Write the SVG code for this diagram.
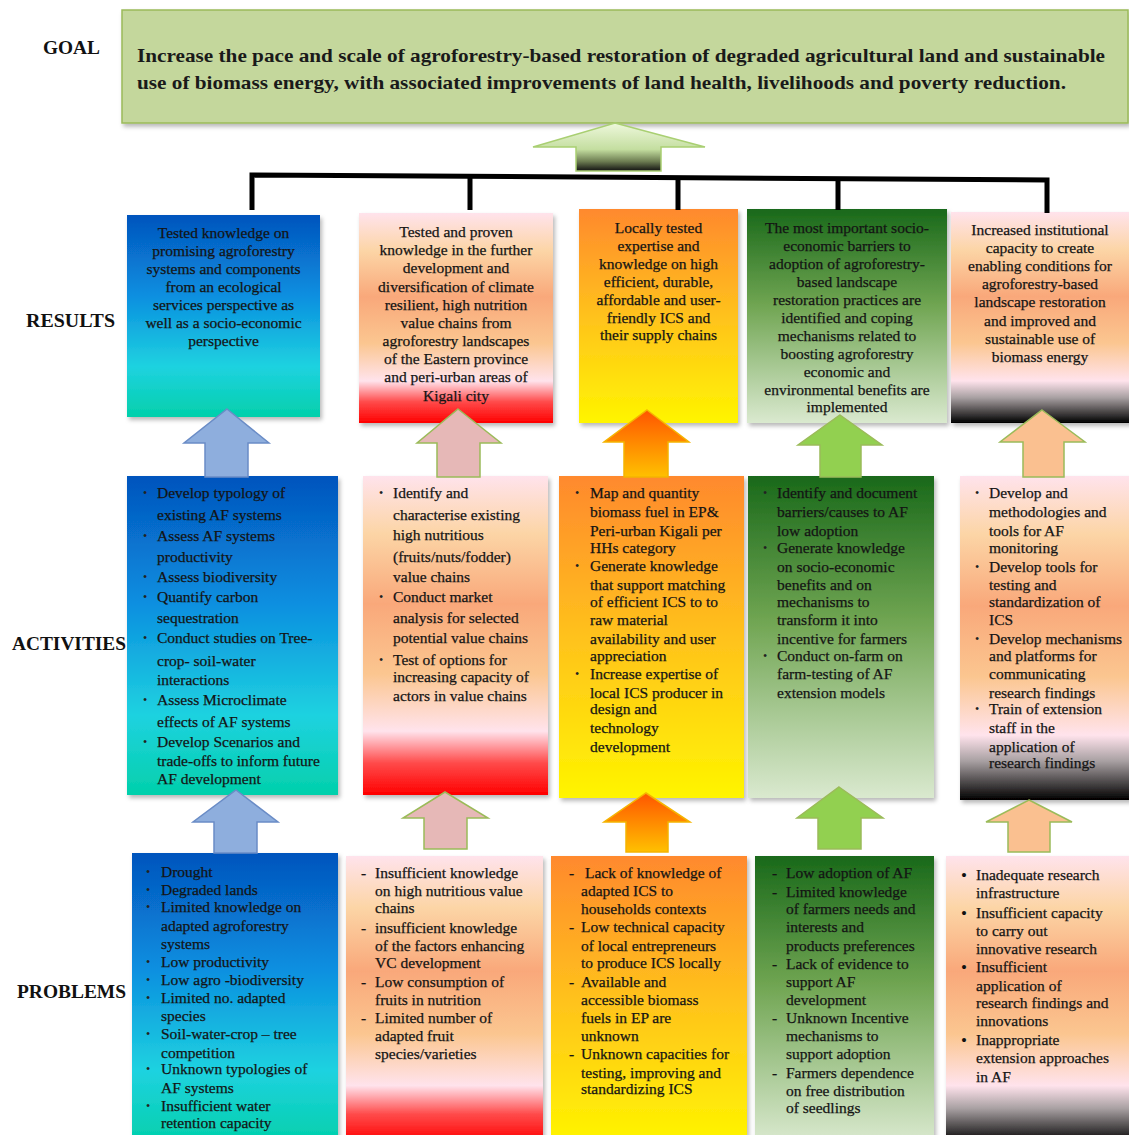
<svg xmlns="http://www.w3.org/2000/svg" width="1129" height="1135" viewBox="0 0 1129 1135">
<style>
.t{font-family:"Liberation Serif","Times New Roman",serif;font-size:15.5px;fill:#141414;stroke:#141414;stroke-width:0.25}
.c{text-anchor:middle}
.lbl{font-family:"Liberation Serif","Times New Roman",serif;font-size:19px;font-weight:bold;fill:#111}
.goal{font-family:"Liberation Serif","Times New Roman",serif;font-size:19px;font-weight:bold;fill:#1a1a1a}
.b{font-family:"Liberation Serif","Times New Roman",serif;font-size:12px;fill:#222}
.rb{font-family:"Liberation Serif","Times New Roman",serif;font-size:17px;fill:#111}
.box{filter:url(#sh)}
.br{fill:none;stroke:#000;stroke-width:5}
.arr{stroke-width:1.5;stroke-linejoin:miter}
</style>
<defs>
<filter id="sh" x="-5%" y="-5%" width="115%" height="115%">
<feDropShadow dx="2" dy="3" stdDeviation="2" flood-color="#000" flood-opacity="0.28"/>
</filter>
<linearGradient id="gBlue" x1="0" y1="0" x2="0" y2="1">
<stop offset="0" stop-color="#0454bd"/><stop offset="0.4" stop-color="#0a8fe0"/><stop offset="0.75" stop-color="#1fd2e0"/><stop offset="1" stop-color="#02d0ab"/>
</linearGradient>
<linearGradient id="gPinkRed" x1="0" y1="0" x2="0" y2="1">
<stop offset="0" stop-color="#ffe3ec"/><stop offset="0.18" stop-color="#fcd5a6"/><stop offset="0.4" stop-color="#f9a87a"/><stop offset="0.62" stop-color="#fbc690"/><stop offset="0.8" stop-color="#ffe3ec"/><stop offset="0.9" stop-color="#ff4a4a"/><stop offset="1" stop-color="#ff0000"/>
</linearGradient>
<linearGradient id="gOrange" x1="0" y1="0" x2="0" y2="1">
<stop offset="0" stop-color="#ff892e"/><stop offset="0.5" stop-color="#ffc21c"/><stop offset="1" stop-color="#fff500"/>
</linearGradient>
<linearGradient id="gGreen" x1="0" y1="0" x2="0" y2="1">
<stop offset="0" stop-color="#19691a"/><stop offset="0.45" stop-color="#70a552"/><stop offset="1" stop-color="#dae9cf"/>
</linearGradient>
<linearGradient id="gPinkBlack" x1="0" y1="0" x2="0" y2="1">
<stop offset="0" stop-color="#ffe3ec"/><stop offset="0.18" stop-color="#fcd5a6"/><stop offset="0.4" stop-color="#f9a87a"/><stop offset="0.62" stop-color="#fbc690"/><stop offset="0.8" stop-color="#ffe3ec"/><stop offset="0.88" stop-color="#a8a0a2"/><stop offset="1" stop-color="#000"/>
</linearGradient>
<linearGradient id="aGoal" x1="0" y1="0" x2="0" y2="1">
<stop offset="0" stop-color="#eef8dc"/><stop offset="0.55" stop-color="#c4dea0"/><stop offset="0.8" stop-color="#6d7d52"/><stop offset="1" stop-color="#111"/>
</linearGradient>
<linearGradient id="aOrange" x1="0" y1="0" x2="0" y2="1">
<stop offset="0" stop-color="#ff5500"/><stop offset="1" stop-color="#ffc000"/>
</linearGradient>
</defs>
<rect width="1129" height="1135" fill="#fff"/>

<!-- row labels -->
<g id="labels">
<text class="lbl" x="43" y="54" textLength="57" lengthAdjust="spacingAndGlyphs">GOAL</text>
<text class="lbl" x="26" y="327" textLength="89" lengthAdjust="spacingAndGlyphs">RESULTS</text>
<text class="lbl" x="12" y="650" textLength="114" lengthAdjust="spacingAndGlyphs">ACTIVITIES</text>
<text class="lbl" x="17" y="998" textLength="109" lengthAdjust="spacingAndGlyphs">PROBLEMS</text>
</g>

<!-- goal -->
<g id="goal">
<rect class="box" x="122" y="10" width="1006" height="113" fill="#c4d79c" stroke="#9bbb59" stroke-width="1.5"/>
<text class="goal" x="137" y="62" textLength="968" lengthAdjust="spacingAndGlyphs">Increase the pace and scale of agroforestry-based restoration of degraded agricultural land and sustainable</text>
<text class="goal" x="137" y="89" textLength="929" lengthAdjust="spacingAndGlyphs">use of biomass energy, with associated improvements of land health, livelihoods and poverty reduction.</text>
</g>

<!-- results -->
<g id="result1">
<rect class="box" x="127" y="215" width="193" height="202" fill="url(#gBlue)"/>
<text class="t c" x="223.5" y="238">Tested knowledge on</text>
<text class="t c" x="223.5" y="256">promising agroforestry</text>
<text class="t c" x="223.5" y="274">systems and components</text>
<text class="t c" x="223.5" y="292">from an ecological</text>
<text class="t c" x="223.5" y="310">services perspective as</text>
<text class="t c" x="223.5" y="328">well as a socio-economic</text>
<text class="t c" x="223.5" y="346">perspective</text>
</g>
<g id="result2">
<rect class="box" x="359" y="213" width="194" height="210" fill="url(#gPinkRed)"/>
<text class="t c" x="456" y="237">Tested and proven</text>
<text class="t c" x="456" y="255">knowledge in the further</text>
<text class="t c" x="456" y="273">development and</text>
<text class="t c" x="456" y="292">diversification of climate</text>
<text class="t c" x="456" y="310">resilient, high nutrition</text>
<text class="t c" x="456" y="328">value chains from</text>
<text class="t c" x="456" y="346">agroforestry landscapes</text>
<text class="t c" x="456" y="364">of the Eastern province</text>
<text class="t c" x="456" y="382">and peri-urban areas of</text>
<text class="t c" x="456" y="401">Kigali city</text>
</g>
<g id="result3">
<rect class="box" x="579" y="209" width="159" height="214" fill="url(#gOrange)"/>
<text class="t c" x="658.5" y="233">Locally tested</text>
<text class="t c" x="658.5" y="251">expertise and</text>
<text class="t c" x="658.5" y="269">knowledge on high</text>
<text class="t c" x="658.5" y="287">efficient, durable,</text>
<text class="t c" x="658.5" y="305">affordable and user-</text>
<text class="t c" x="658.5" y="323">friendly ICS and</text>
<text class="t c" x="658.5" y="340">their supply chains</text>
</g>
<g id="result4">
<rect class="box" x="747" y="209" width="200" height="214" fill="url(#gGreen)"/>
<text class="t c" x="847" y="233">The most important socio-</text>
<text class="t c" x="847" y="251">economic barriers to</text>
<text class="t c" x="847" y="269">adoption of agroforestry-</text>
<text class="t c" x="847" y="287">based landscape</text>
<text class="t c" x="847" y="305">restoration practices are</text>
<text class="t c" x="847" y="323">identified and coping</text>
<text class="t c" x="847" y="341">mechanisms related to</text>
<text class="t c" x="847" y="359">boosting agroforestry</text>
<text class="t c" x="847" y="377">economic and</text>
<text class="t c" x="847" y="395">environmental benefits are</text>
<text class="t c" x="847" y="412">implemented</text>
</g>
<g id="result5">
<rect class="box" x="951" y="212" width="180" height="211" fill="url(#gPinkBlack)"/>
<text class="t c" x="1040" y="235">Increased institutional</text>
<text class="t c" x="1040" y="253">capacity to create</text>
<text class="t c" x="1040" y="271">enabling conditions for</text>
<text class="t c" x="1040" y="289">agroforestry-based</text>
<text class="t c" x="1040" y="307">landscape restoration</text>
<text class="t c" x="1040" y="326">and improved and</text>
<text class="t c" x="1040" y="344">sustainable use of</text>
<text class="t c" x="1040" y="362">biomass energy</text>
</g>

<!-- activities -->
<g id="activity1">
<rect class="box" x="127" y="476" width="211" height="319" fill="url(#gBlue)"/>
<text class="b" x="143" y="497">•</text><text class="t" x="157" y="498">Develop typology of</text>
<text class="t" x="157" y="520">existing AF systems</text>
<text class="b" x="143" y="540">•</text><text class="t" x="157" y="541">Assess AF systems</text>
<text class="t" x="157" y="562">productivity</text>
<text class="b" x="143" y="581">•</text><text class="t" x="157" y="582">Assess biodiversity</text>
<text class="b" x="143" y="601">•</text><text class="t" x="157" y="602">Quantify carbon</text>
<text class="t" x="157" y="623">sequestration</text>
<text class="b" x="143" y="642">•</text><text class="t" x="157" y="643">Conduct studies on Tree-</text>
<text class="t" x="157" y="666">crop- soil-water</text>
<text class="t" x="157" y="685">interactions</text>
<text class="b" x="143" y="704">•</text><text class="t" x="157" y="705">Assess Microclimate</text>
<text class="t" x="157" y="727">effects of AF systems</text>
<text class="b" x="143" y="746">•</text><text class="t" x="157" y="747">Develop Scenarios and</text>
<text class="t" x="157" y="766">trade-offs to inform future</text>
<text class="t" x="157" y="784">AF development</text>
</g>
<g id="activity2">
<rect class="box" x="363" y="476" width="185" height="319" fill="url(#gPinkRed)"/>
<text class="b" x="379" y="497">•</text><text class="t" x="393" y="498">Identify and</text>
<text class="t" x="393" y="520">characterise existing</text>
<text class="t" x="393" y="540">high nutritious</text>
<text class="t" x="393" y="562">(fruits/nuts/fodder)</text>
<text class="t" x="393" y="582">value chains</text>
<text class="b" x="379" y="601">•</text><text class="t" x="393" y="602">Conduct market</text>
<text class="t" x="393" y="623">analysis for selected</text>
<text class="t" x="393" y="643">potential value chains</text>
<text class="b" x="379" y="664">•</text><text class="t" x="393" y="665">Test of options for</text>
<text class="t" x="393" y="682">increasing capacity of</text>
<text class="t" x="393" y="701">actors in value chains</text>
</g>
<g id="activity3">
<rect class="box" x="559" y="476" width="185" height="322" fill="url(#gOrange)"/>
<text class="b" x="575" y="497">•</text><text class="t" x="590" y="498">Map and quantity</text>
<text class="t" x="590" y="517">biomass fuel in EP&amp;</text>
<text class="t" x="590" y="536">Peri-urban Kigali per</text>
<text class="t" x="590" y="553">HHs category</text>
<text class="b" x="575" y="570">•</text><text class="t" x="590" y="571">Generate knowledge</text>
<text class="t" x="590" y="590">that support matching</text>
<text class="t" x="590" y="607">of efficient ICS to to</text>
<text class="t" x="590" y="625">raw material</text>
<text class="t" x="590" y="644">availability and user</text>
<text class="t" x="590" y="661">appreciation</text>
<text class="b" x="575" y="678">•</text><text class="t" x="590" y="679">Increase expertise of</text>
<text class="t" x="590" y="698">local ICS producer in</text>
<text class="t" x="590" y="714">design and</text>
<text class="t" x="590" y="733">technology</text>
<text class="t" x="590" y="752">development</text>
</g>
<g id="activity4">
<rect class="box" x="748" y="476" width="186" height="322" fill="url(#gGreen)"/>
<text class="b" x="763" y="497">•</text><text class="t" x="777" y="498">Identify and document</text>
<text class="t" x="777" y="517">barriers/causes to AF</text>
<text class="t" x="777" y="536">low adoption</text>
<text class="b" x="763" y="552">•</text><text class="t" x="777" y="553">Generate knowledge</text>
<text class="t" x="777" y="572">on socio-economic</text>
<text class="t" x="777" y="590">benefits and on</text>
<text class="t" x="777" y="607">mechanisms to</text>
<text class="t" x="777" y="625">transform it into</text>
<text class="t" x="777" y="644">incentive for farmers</text>
<text class="b" x="763" y="660">•</text><text class="t" x="777" y="661">Conduct on-farm on</text>
<text class="t" x="777" y="679">farm-testing of  AF</text>
<text class="t" x="777" y="698">extension models</text>
</g>
<g id="activity5">
<rect class="box" x="960" y="476" width="171" height="324" fill="url(#gPinkBlack)"/>
<text class="b" x="975" y="497">•</text><text class="t" x="989" y="498">Develop and</text>
<text class="t" x="989" y="517">methodologies and</text>
<text class="t" x="989" y="536">tools for AF</text>
<text class="t" x="989" y="553">monitoring</text>
<text class="b" x="975" y="571">•</text><text class="t" x="989" y="572">Develop tools for</text>
<text class="t" x="989" y="590">testing and</text>
<text class="t" x="989" y="607">standardization of</text>
<text class="t" x="989" y="625">ICS</text>
<text class="b" x="975" y="643">•</text><text class="t" x="989" y="644">Develop mechanisms</text>
<text class="t" x="989" y="661">and platforms for</text>
<text class="t" x="989" y="679">communicating</text>
<text class="t" x="989" y="698">research findings</text>
<text class="b" x="975" y="713">•</text><text class="t" x="989" y="714">Train of extension</text>
<text class="t" x="989" y="733">staff in the</text>
<text class="t" x="989" y="752">application of</text>
<text class="t" x="989" y="768">research findings</text>
</g>

<!-- problems -->
<g id="problem1">
<rect class="box" x="132" y="853" width="206" height="290" fill="url(#gBlue)"/>
<text class="b" x="146" y="876">•</text><text class="t" x="161" y="877">Drought</text>
<text class="b" x="146" y="894">•</text><text class="t" x="161" y="895">Degraded lands</text>
<text class="b" x="146" y="911">•</text><text class="t" x="161" y="912">Limited knowledge on</text>
<text class="t" x="161" y="931">adapted agroforestry</text>
<text class="t" x="161" y="949">systems</text>
<text class="b" x="146" y="966">•</text><text class="t" x="161" y="967">Low productivity</text>
<text class="b" x="146" y="984">•</text><text class="t" x="161" y="985">Low agro -biodiversity</text>
<text class="b" x="146" y="1002">•</text><text class="t" x="161" y="1003">Limited no. adapted</text>
<text class="t" x="161" y="1021">species</text>
<text class="b" x="146" y="1038">•</text><text class="t" x="161" y="1039">Soil-water-crop – tree</text>
<text class="t" x="161" y="1058">competition</text>
<text class="b" x="146" y="1073">•</text><text class="t" x="161" y="1074">Unknown typologies of</text>
<text class="t" x="161" y="1093">AF systems</text>
<text class="b" x="146" y="1110">•</text><text class="t" x="161" y="1111">Insufficient water</text>
<text class="t" x="161" y="1128">retention capacity</text>
</g>
<g id="problem2">
<rect class="box" x="346" y="856" width="197" height="287" fill="url(#gPinkRed)"/>
<text class="t" x="361" y="878">-</text><text class="t" x="375" y="878">Insufficient knowledge</text>
<text class="t" x="375" y="896">on high nutritious value</text>
<text class="t" x="375" y="913">chains</text>
<text class="t" x="361" y="933">-</text><text class="t" x="375" y="933">insufficient knowledge</text>
<text class="t" x="375" y="951">of the factors enhancing</text>
<text class="t" x="375" y="968">VC development</text>
<text class="t" x="361" y="987">-</text><text class="t" x="375" y="987">Low consumption of</text>
<text class="t" x="375" y="1005">fruits in nutrition</text>
<text class="t" x="361" y="1023">-</text><text class="t" x="375" y="1023">Limited number of</text>
<text class="t" x="375" y="1041">adapted fruit</text>
<text class="t" x="375" y="1059">species/varieties</text>
</g>
<g id="problem3">
<rect class="box" x="551" y="856" width="196" height="287" fill="url(#gOrange)"/>
<text class="t" x="569" y="878">-</text><text class="t" x="585" y="878">Lack of knowledge of</text>
<text class="t" x="581" y="896">adapted ICS to</text>
<text class="t" x="581" y="914">households contexts</text>
<text class="t" x="569" y="932">-</text><text class="t" x="581" y="932">Low technical capacity</text>
<text class="t" x="581" y="951">of local entrepreneurs</text>
<text class="t" x="581" y="968">to produce ICS locally</text>
<text class="t" x="569" y="987">-</text><text class="t" x="581" y="987">Available and</text>
<text class="t" x="581" y="1005">accessible biomass</text>
<text class="t" x="581" y="1023">fuels in EP are</text>
<text class="t" x="581" y="1041">unknown</text>
<text class="t" x="569" y="1059">-</text><text class="t" x="581" y="1059">Unknown capacities for</text>
<text class="t" x="581" y="1078">testing, improving and</text>
<text class="t" x="581" y="1094">standardizing ICS</text>
</g>
<g id="problem4">
<rect class="box" x="755" y="856" width="179" height="287" fill="url(#gGreen)"/>
<text class="t" x="772" y="878">-</text><text class="t" x="786" y="878">Low adoption of AF</text>
<text class="t" x="772" y="897">-</text><text class="t" x="786" y="897">Limited knowledge</text>
<text class="t" x="786" y="914">of farmers needs and</text>
<text class="t" x="786" y="932">interests and</text>
<text class="t" x="786" y="951">products preferences</text>
<text class="t" x="772" y="969">-</text><text class="t" x="786" y="969">Lack of evidence to</text>
<text class="t" x="786" y="987">support AF</text>
<text class="t" x="786" y="1005">development</text>
<text class="t" x="772" y="1023">-</text><text class="t" x="786" y="1023">Unknown Incentive</text>
<text class="t" x="786" y="1041">mechanisms to</text>
<text class="t" x="786" y="1059">support adoption</text>
<text class="t" x="772" y="1078">-</text><text class="t" x="786" y="1078">Farmers dependence</text>
<text class="t" x="786" y="1096">on  free distribution</text>
<text class="t" x="786" y="1113">of seedlings</text>
</g>
<g id="problem5">
<rect class="box" x="946" y="856" width="185" height="287" fill="url(#gPinkBlack)"/>
<text class="rb" x="961" y="881">•</text><text class="t" x="976" y="880">Inadequate research</text>
<text class="t" x="976" y="898">infrastructure</text>
<text class="rb" x="961" y="919">•</text><text class="t" x="976" y="918">Insufficient capacity</text>
<text class="t" x="976" y="936">to carry out</text>
<text class="t" x="976" y="954">innovative research</text>
<text class="rb" x="961" y="973">•</text><text class="t" x="976" y="972">Insufficient</text>
<text class="t" x="976" y="991">application of</text>
<text class="t" x="976" y="1008">research findings and</text>
<text class="t" x="976" y="1026">innovations</text>
<text class="rb" x="961" y="1046">•</text><text class="t" x="976" y="1045">Inappropriate</text>
<text class="t" x="976" y="1063">extension approaches</text>
<text class="t" x="976" y="1082">in AF</text>
</g>

<!-- connectors -->
<g id="connectors">
<path class="br" d="M252,210 V175 L1047,180 V213"/>
<path class="br" d="M470,176 V210 M678,177 V210 M838,178 V210"/>
<polygon class="arr" points="615,123 705,147 661,147 661,171 576,171 576,147 533,147" fill="url(#aGoal)" stroke="#a9cf72"/>
<polygon class="arr" points="227,409 269,443 248,443 248,477 205,477 205,443 184,443" fill="#8eaedd" stroke="#6a8cc6"/>
<polygon class="arr" points="458,409 501,443 480,443 480,477 437,477 437,443 417,443" fill="#e6b8b7" stroke="#9bbb59"/>
<polygon class="arr" points="647,410 689,442 668,442 668,477 624,477 624,442 604,442" fill="url(#aOrange)" stroke="#f5b400"/>
<polygon class="arr" points="840,415 882,445 861,445 861,477 820,477 820,445 798,445" fill="#92d050" stroke="#9bbb59"/>
<polygon class="arr" points="1042,410 1085,442 1064,442 1064,477 1023,477 1023,442 1000,442" fill="#fac090" stroke="#9bbb59"/>
<polygon class="arr" points="236,790 278,822 257,822 257,853 214,853 214,822 193,822" fill="#8eaedd" stroke="#6a8cc6"/>
<polygon class="arr" points="445,792 488,818 467,818 467,849 424,849 424,818 403,818" fill="#e6b8b7" stroke="#9bbb59"/>
<polygon class="arr" points="646,793 690,822 668,822 668,852 626,852 626,822 604,822" fill="url(#aOrange)" stroke="#f5b400"/>
<polygon class="arr" points="839,787 883,818 861,818 861,849 818,849 818,818 797,818" fill="#92d050" stroke="#9bbb59"/>
<polygon class="arr" points="1029,800 1072,822 1050,822 1050,852 1008,852 1008,822 986,822" fill="#fac090" stroke="#9bbb59"/>
</g>
</svg>
